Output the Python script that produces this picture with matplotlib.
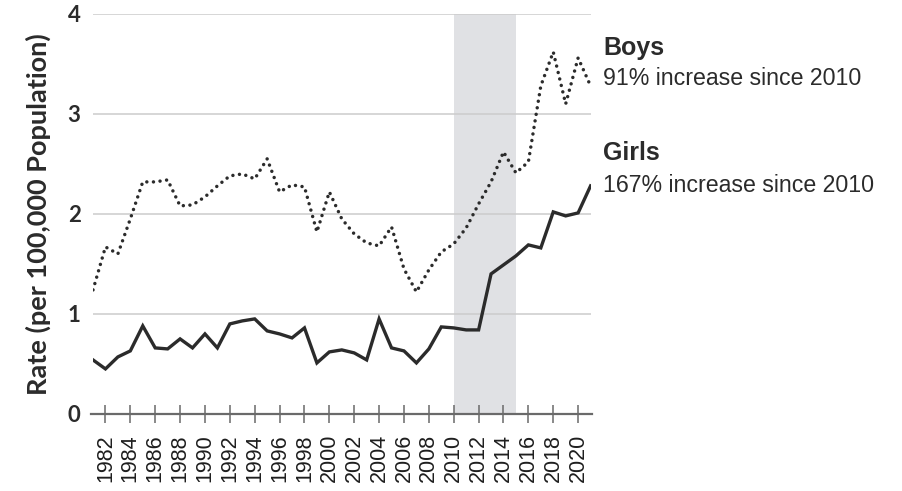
import matplotlib
matplotlib.use("Agg")
import matplotlib.pyplot as plt
import numpy as np

years = list(range(1981, 2022))
girls = [0.54, 0.45, 0.57, 0.63, 0.88, 0.66, 0.65, 0.75, 0.66, 0.80,
         0.66, 0.90, 0.93, 0.95, 0.83, 0.80, 0.76, 0.86, 0.51, 0.62,
         0.64, 0.61, 0.54, 0.95, 0.66, 0.63, 0.51, 0.65, 0.87, 0.86,
         0.84, 0.84, 1.40, 1.49, 1.58, 1.69, 1.66, 2.02, 1.98, 2.01, 2.28]
boys = [1.24, 1.67, 1.60, 1.95, 2.32, 2.32, 2.34, 2.08, 2.09, 2.17,
        2.28, 2.38, 2.40, 2.35, 2.55, 2.22, 2.29, 2.27, 1.82, 2.22,
        1.95, 1.80, 1.71, 1.68, 1.87, 1.45, 1.22, 1.44, 1.62, 1.70,
        1.86, 2.10, 2.32, 2.62, 2.41, 2.52, 3.28, 3.62, 3.10, 3.56, 3.28]
xtick_years = list(range(1982, 2021, 2))
ytick_vals = [0, 1, 2, 3, 4]
shade_span = (2010, 2015)
ylabel = "Rate (per 100,000 Population)"
boys_title, boys_note = "Boys", "91% increase since 2010"
girls_title, girls_note = "Girls", "167% increase since 2010"

dark = "#2b2b2b"
fig = plt.figure(figsize=(9.03, 4.91), dpi=100)
ax = fig.add_axes([0.103, 0.157, 0.551, 0.8147])

ax.axvspan(shade_span[0], shade_span[1], color="#e0e1e4", zorder=0, lw=0)
for v in ytick_vals[1:]:
    ax.axhline(v, color="#cccccc", lw=1.1, zorder=1)

ax.plot(years, girls, color=dark, lw=2.4, solid_joinstyle="miter", zorder=3)
ax.plot(years, boys, color=dark, lw=2.5, linestyle=(0, (0.01, 1.9)),
        dash_capstyle="round", zorder=3)

ax.set_xlim(1981, 2021)
ax.set_ylim(0, 4)
for s in ["top", "right", "left"]:
    ax.spines[s].set_visible(False)
ax.spines["bottom"].set_color("#6a6a6a")
ax.spines["bottom"].set_linewidth(1.6)
ax.spines["bottom"].set_bounds(1980.8, 2021.1)

ax.set_xticks(xtick_years)
ax.set_xticklabels([str(y) for y in xtick_years], rotation=90,
                   fontfamily="Liberation Sans", fontsize=15.5, color="#1e1e1e")
ax.tick_params(axis="x", direction="inout", length=13, width=1.1,
               color="#6a6a6a", pad=8)
ax.set_yticks(ytick_vals)
ax.set_yticklabels([str(v) for v in ytick_vals], fontfamily="Lato",
                   fontweight="bold", fontsize=16, color=dark)
ax.tick_params(axis="y", length=0, pad=9)
ax.set_ylabel(ylabel, fontfamily="Lato", fontweight="bold", fontsize=19.5,
              color=dark, labelpad=12)

tx = 1.025
tr = ax.get_yaxis_transform()
ax.text(tx, 3.66, boys_title, transform=tr, fontfamily="Liberation Sans",
        fontweight="bold", fontsize=18, color=dark, va="center", ha="left", clip_on=False)
ax.text(tx, 3.35, boys_note, transform=tr, fontfamily="Liberation Sans",
        fontsize=16.7, color=dark, va="center", ha="left", clip_on=False)
ax.text(tx, 2.61, girls_title, transform=tr, fontfamily="Liberation Sans",
        fontweight="bold", fontsize=18, color=dark, va="center", ha="left", clip_on=False)
ax.text(tx, 2.28, girls_note, transform=tr, fontfamily="Liberation Sans",
        fontsize=16.7, color=dark, va="center", ha="left", clip_on=False)

fig.savefig("out.png", dpi=100)
